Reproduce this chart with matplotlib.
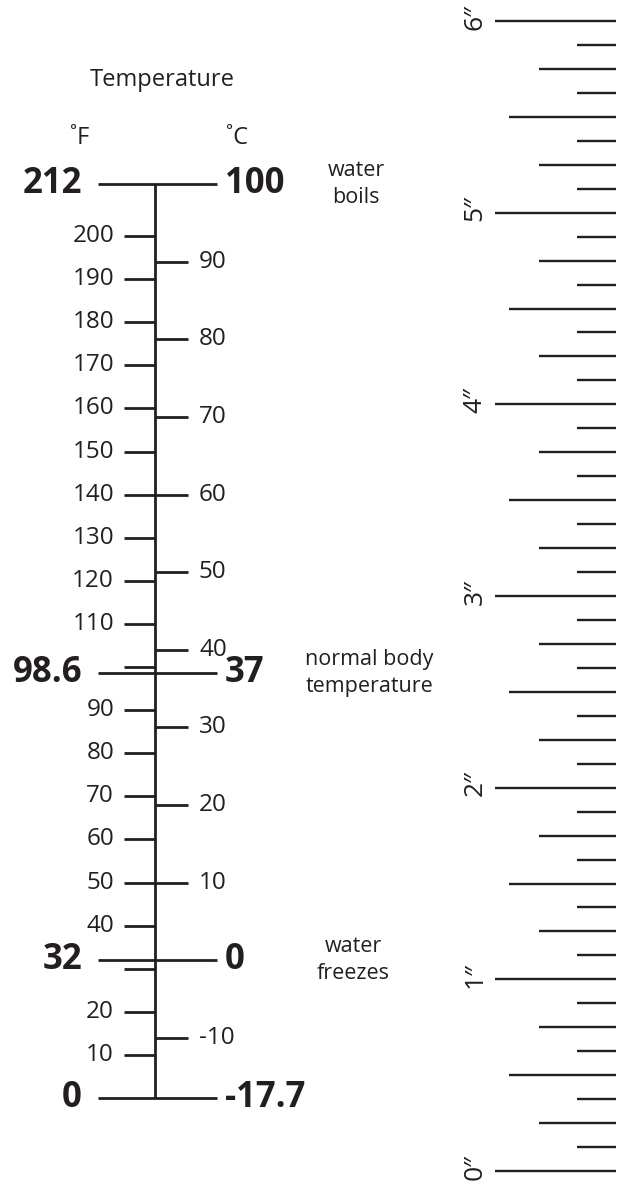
"""Temperature scale (°F / °C) next to an inch ruler."""
import numpy as np
import matplotlib
matplotlib.use("Agg")
import matplotlib.pyplot as plt
from matplotlib.transforms import offset_copy

plt.rcParams["font.family"] = ["Open Sans", "DejaVu Sans"]
INK = "#231f20"

# --- data ---
F_MAJOR = [212, 98.6, 32, 0]
F_MAJOR_LABELS = ["212", "98.6", "32", "0"]
C_MAJOR_LABELS = ["100", "37", "0", "-17.7"]
NOTES = ["water\nboils", "normal body\ntemperature", "water\nfreezes"]

F_TICKS = [200, 190, 180, 170, 160, 150, 140, 130, 120, 110, 100,
           90, 80, 70, 60, 50, 40, 30, 20, 10]
F_TICK_LABELS = ["200", "190", "180", "170", "160", "150", "140", "130", "120", "110", "",
                 "90", "80", "70", "60", "50", "40", "", "20", "10"]
C_TICKS = [90, 80, 70, 60, 50, 40, 30, 20, 10, -10]
C_TICK_LABELS = ["90", "80", "70", "60", "50", "40", "30", "20", "10", "-10"]

RULER_INCHES = [0, 1, 2, 3, 4, 5, 6]
RULER_LABELS = ["0″", "1″", "2″", "3″", "4″", "5″", "6″"]
RULER_DIVISIONS = 8


def c_to_f(c):
    return c * 9 / 5 + 32


def main():
    fig = plt.figure(figsize=(6.22, 11.84), dpi=100)

    # thermometer: x in layout px, y in °F
    ax = fig.add_axes([0, 0, 1, 1])
    ax.set_xlim(0, 622); ax.set_ylim(-19.95, 254.76); ax.axis("off")
    X0 = 155
    ax.plot([X0, X0], [F_MAJOR[-1], F_MAJOR[0]], color=INK, lw=2.0, solid_capstyle="butt")
    for f, fl, cl in zip(F_MAJOR, F_MAJOR_LABELS, C_MAJOR_LABELS):
        ax.plot([98, 217], [f, f], color=INK, lw=2.0, solid_capstyle="butt")
        ax.text(82, f, fl, ha="right", va="center", fontsize=25, fontweight="bold", color=INK)
        ax.text(225, f, cl, ha="left", va="center", fontsize=25, fontweight="bold", color=INK)
    for f, lab in zip(F_TICKS, F_TICK_LABELS):
        ax.plot([124, X0], [f, f], color=INK, lw=2.0, solid_capstyle="butt")
        if lab:
            ax.text(114, f, lab, ha="right", va="center", fontsize=17.5, color=INK)
    for c, lab in zip(C_TICKS, C_TICK_LABELS):
        f = c_to_f(c)
        ax.plot([X0, 188], [f, f], color=INK, lw=2.0, solid_capstyle="butt")
        ax.text(199, f, lab, ha="left", va="center", fontsize=17.5, color=INK)
    for f, note, nx in zip(F_MAJOR[:3], NOTES, [356, 369, 353]):
        ax.text(nx, f, note, ha="center", va="center", multialignment="center",
                fontsize=15.5, linespacing=1.35, color=INK)

    fig.text(162 / 622, 1 - 80 / 1184, "Temperature", ha="center", va="center",
             fontsize=17, color=INK)
    fig.text(80 / 622, 1 - 138 / 1184, "˚F", ha="center", va="center", fontsize=17, color=INK)
    fig.text(237 / 622, 1 - 138 / 1184, "˚C", ha="center", va="center", fontsize=17, color=INK)

    # ruler: x in layout px, y in inches
    rx = fig.add_axes([0, 0, 1, 1])
    rx.set_xlim(0, 622); rx.set_ylim(-0.0678, 6.1096); rx.axis("off"); rx.patch.set_alpha(0)
    n = (RULER_INCHES[-1] - RULER_INCHES[0]) * RULER_DIVISIONS
    for i in range(n + 1):
        y = RULER_INCHES[0] + i / RULER_DIVISIONS
        if i % 8 == 0:
            x_start = 495
        elif i % 4 == 0:
            x_start = 509
        elif i % 2 == 0:
            x_start = 539
        else:
            x_start = 577
        rx.plot([x_start, 616], [y, y], color=INK, lw=1.7, solid_capstyle="butt")
    up = offset_copy(rx.transData, fig=fig, x=0, y=3, units="points")
    for inch, lab in zip(RULER_INCHES, RULER_LABELS):
        rx.text(475, inch, lab, rotation=90, ha="center", va="center", fontsize=19,
                color=INK, transform=up)

    fig.savefig("out.png", dpi=100)
    plt.close(fig)


if __name__ == "__main__":
    main()
